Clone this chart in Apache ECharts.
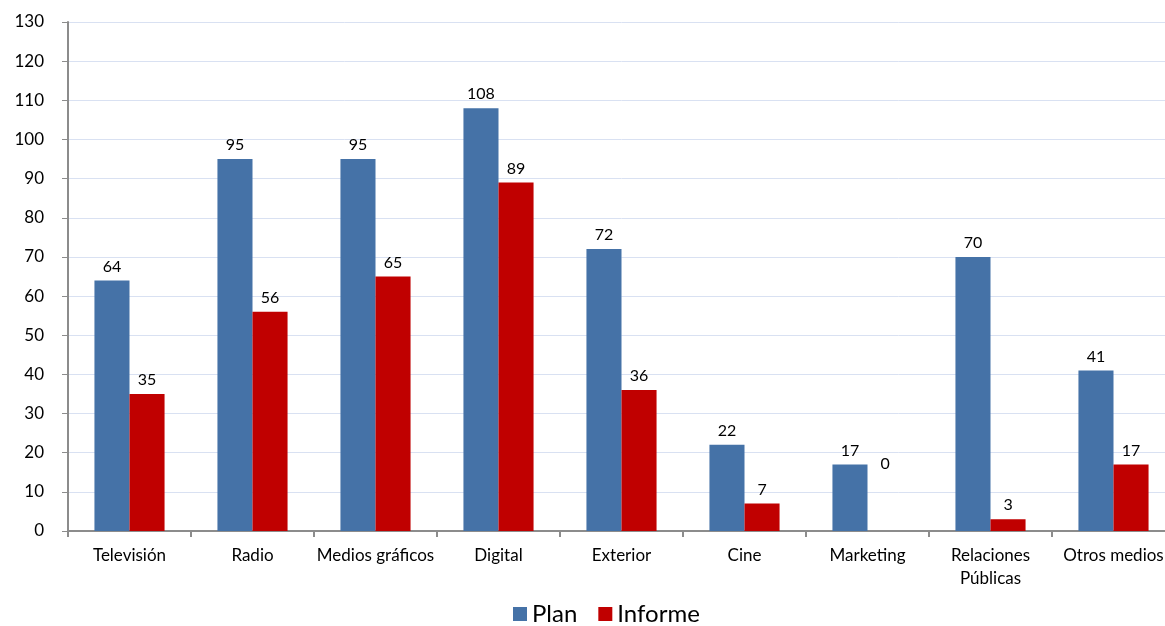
<!DOCTYPE html>
<html>
<head>
<meta charset="utf-8">
<script src="https://cdn.jsdelivr.net/npm/echarts@6/dist/echarts.min.js"></script>
<style>html,body{margin:0;padding:0;background:#fff;overflow:hidden;width:1165px;height:626px;}#c{width:1180px;height:626px;}</style>
</head>
<body>
<div id="c"></div>
<script>
const categories = ['Televisión','Radio','Medios gráficos','Digital','Exterior','Cine','Marketing','Relaciones\nPúblicas','Otros medios'];
const planValues = [64,95,95,108,72,22,17,70,41];
const informeValues = [35,56,65,89,36,7,0,3,17];
const yTicks = {min:0,max:130,interval:10};
const FONT = 'Lato, "Open Sans", sans-serif';

const chart = echarts.init(document.getElementById('c'));
chart.setOption({
  animation:false,
  textStyle:{fontFamily:FONT},
  grid:{left:68,width:1107,top:22,bottom:95,containLabel:false},
  legend:{
    top:602,left:513,padding:0,itemWidth:14,itemHeight:14,itemGap:21,
    icon:'rect',
    textStyle:{fontSize:24,color:'#000',fontFamily:FONT},
    data:['Plan','Informe']
  },
  xAxis:{
    type:'category',data:categories,
    axisLine:{lineStyle:{color:'#8c8c8c',width:2}},
    axisTick:{show:true,length:6,lineStyle:{color:'#8c8c8c',width:2}},
    axisLabel:{fontSize:17,color:'#000',margin:13,interval:0,lineHeight:23,fontFamily:FONT}
  },
  yAxis:{
    type:'value',min:yTicks.min,max:yTicks.max,interval:yTicks.interval,
    axisLine:{show:true,lineStyle:{color:'#8c8c8c',width:2}},
    axisTick:{show:true,length:6,lineStyle:{color:'#8c8c8c',width:1}},
    splitLine:{lineStyle:{color:'#d9e1f2',width:1}},
    axisLabel:{fontSize:17,color:'#000',margin:24,fontFamily:FONT}
  },
  series:[
    {name:'Plan',type:'bar',data:planValues,barGap:'0%',barCategoryGap:'43%',
     itemStyle:{color:'#4572a7'},
     label:{show:true,position:'top',fontSize:16,color:'#000',distance:6,fontFamily:FONT}},
    {name:'Informe',type:'bar',
     data:informeValues.map(v => v === 0 ? {value:v,label:{offset:[0,-53]}} : v),
     itemStyle:{color:'#c00000'},
     label:{show:true,position:'top',fontSize:16,color:'#000',distance:6,fontFamily:FONT}}
  ]
});
</script>
</body>
</html>
